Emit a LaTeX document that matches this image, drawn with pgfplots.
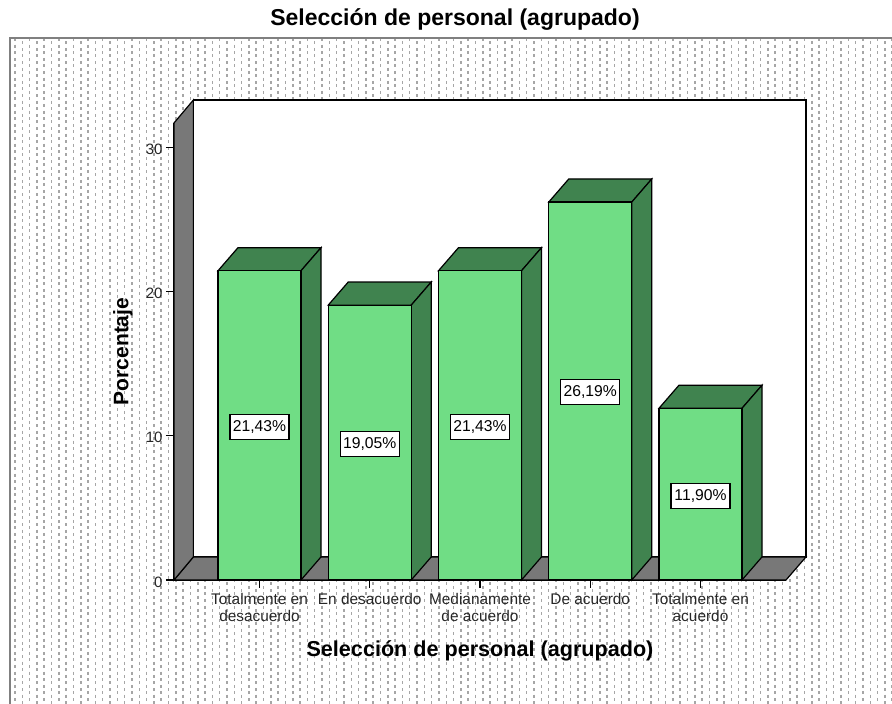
\documentclass[border=0pt]{standalone}
\usepackage{pgfplots}
\pgfplotsset{compat=1.18}
\usepackage{fontspec}
\setmainfont{Liberation Sans}
\definecolor{front}{HTML}{70DD85}
\definecolor{side}{HTML}{40834F}
\definecolor{wall}{HTML}{787878}
\definecolor{frame}{HTML}{808080}
\definecolor{dotc}{HTML}{A6A6A6}
\begin{document}
\begin{tikzpicture}
\useasboundingbox (0,0) rectangle (892pt,704pt);
% chart-area background
\foreach \k in {0,...,120}{
  \pgfmathsetmacro{\ph}{3.3*mod(\k,2)}
  \draw[dotc,line width=1.5pt,dash pattern=on 3pt off 3.6pt,dash phase=\ph pt] ({15+\k*7.31 pt},666pt) -- ({15+\k*7.31 pt},0);
}
\draw[frame,line width=1.4pt] (10pt,0) -- (10pt,666pt) -- (892pt,666pt);
\begin{axis}[
  at={(174pt,124pt)}, anchor=south west,
  scale only axis, width=612pt, height=457pt,
  xmin=-0.7755, xmax=4.7755, ymin=0, ymax=31.67,
  clip=false,
  axis x line=bottom, axis y line=left,
  axis line style={-,line width=1.2pt},
  tick align=outside, major tick length=8pt,
  every tick/.style={black,line width=1.1pt},
  xtick={0,1,2,3,4},
  xticklabels={{Totalmente en\\desacuerdo},{En desacuerdo},{Medianamente\\de acuerdo},{De acuerdo},{Totalmente en\\acuerdo}},
  xticklabel style={align=center,font=\fontsize{15.4}{17}\selectfont,text=black!85,yshift=-2pt},
  ytick={0,10,20,30},
  yticklabel style={font=\fontsize{15}{17}\selectfont,text=black!85,yshift=-2pt},
  /pgf/number format/assume math mode=true,
  title={\textbf{Selección de personal (agrupado)}},
  every axis title/.style={at={(rel axis cs:0.5,1)},anchor=center,yshift=103pt,xshift=-25pt,font=\fontsize{23}{26}\selectfont},
  xlabel={\textbf{Selección de personal (agrupado)}},
  every axis x label/.style={at={(rel axis cs:0.5,0)},anchor=center,yshift=-71pt,font=\fontsize{21.6}{24}\selectfont},
  ylabel={\textbf{Porcentaje}},
  every axis y label/.style={at={(rel axis cs:0,0.5)},anchor=center,rotate=90,yshift=51pt,font=\fontsize{21}{24}\selectfont},
]
% back wall, floor, left wall
\addplot[fill=white,draw=black,line width=1.2pt] coordinates {(-0.6,1.6) (4.9569,1.6) (4.9569,33.26) (-0.6,33.26)} --cycle;
\addplot[fill=wall,draw=black,line width=1.2pt] coordinates {(-0.7755,0) (4.7755,0) (4.9569,1.6) (-0.6,1.6)} --cycle;
\addplot[fill=wall,draw=black,line width=1.2pt] coordinates {(-0.7755,0) (-0.6,1.6) (-0.6,33.26) (-0.7755,31.67)} --cycle;
% bar tops
\addplot[fill=side,draw=black,line width=1.2pt] coordinates {(-0.3765,21.43) (0.3765,21.43) (0.5579,23.03) (-0.1951,23.03)} --cycle;
\addplot[fill=side,draw=black,line width=1.2pt] coordinates {(0.6235,19.05) (1.3765,19.05) (1.5579,20.65) (0.8049,20.65)} --cycle;
\addplot[fill=side,draw=black,line width=1.2pt] coordinates {(1.6235,21.43) (2.3765,21.43) (2.5579,23.03) (1.8049,23.03)} --cycle;
\addplot[fill=side,draw=black,line width=1.2pt] coordinates {(2.6235,26.19) (3.3765,26.19) (3.5579,27.79) (2.8049,27.79)} --cycle;
\addplot[fill=side,draw=black,line width=1.2pt] coordinates {(3.6235,11.90) (4.3765,11.90) (4.5579,13.50) (3.8049,13.50)} --cycle;
% bar sides
\addplot[fill=side,draw=black,line width=1.2pt] coordinates {(0.3765,0) (0.5579,1.6) (0.5579,23.03) (0.3765,21.43)} --cycle;
\addplot[fill=side,draw=black,line width=1.2pt] coordinates {(1.3765,0) (1.5579,1.6) (1.5579,20.65) (1.3765,19.05)} --cycle;
\addplot[fill=side,draw=black,line width=1.2pt] coordinates {(2.3765,0) (2.5579,1.6) (2.5579,23.03) (2.3765,21.43)} --cycle;
\addplot[fill=side,draw=black,line width=1.2pt] coordinates {(3.3765,0) (3.5579,1.6) (3.5579,27.79) (3.3765,26.19)} --cycle;
\addplot[fill=side,draw=black,line width=1.2pt] coordinates {(4.3765,0) (4.5579,1.6) (4.5579,13.50) (4.3765,11.90)} --cycle;
% bar fronts
\addplot[ybar,bar width=83pt,fill=front,draw=black,line width=1.2pt] coordinates {(0,21.43) (1,19.05) (2,21.43) (3,26.19) (4,11.90)};
% value labels
\addplot[only marks,mark=none,point meta=explicit symbolic,nodes near coords,nodes near coords align={center},
  every node near coord/.append style={anchor=center,fill=white,draw=black,line width=1.1pt,inner sep=0pt,minimum width=59pt,minimum height=25pt,font=\fontsize{15.7}{17}\selectfont,text=black}]
  coordinates {(0,10.6)[21,43\%] (1,9.4)[19,05\%] (2,10.6)[21,43\%] (3,13.0)[26,19\%] (4,5.85)[11,90\%]};
\end{axis}
\end{tikzpicture}
\end{document}
